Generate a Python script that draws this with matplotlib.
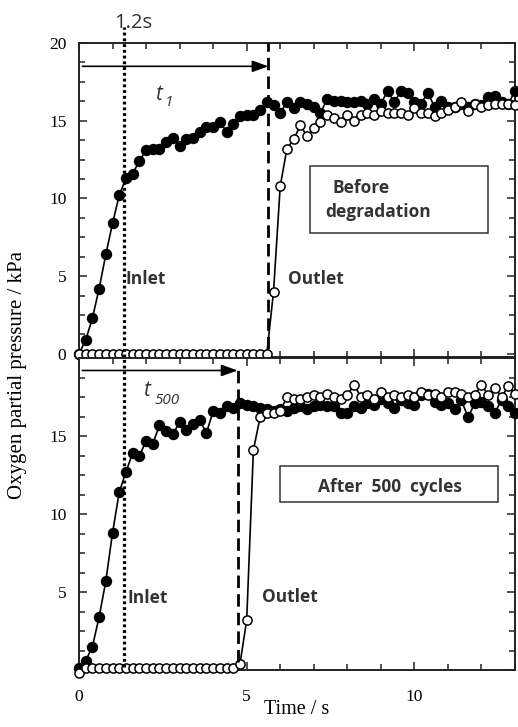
import matplotlib
matplotlib.use("Agg")
import matplotlib.pyplot as plt
from matplotlib.patches import Rectangle
from matplotlib.ticker import MultipleLocator

# sampling times (s), one point every 0.2 s
time = [0.0, 0.2, 0.4, 0.6, 0.8, 1.0, 1.2, 1.4, 1.6, 1.8,
        2.0, 2.2, 2.4, 2.6, 2.8, 3.0, 3.2, 3.4, 3.6, 3.8,
        4.0, 4.2, 4.4, 4.6, 4.8, 5.0, 5.2, 5.4, 5.6, 5.8,
        6.0, 6.2, 6.4, 6.6, 6.8, 7.0, 7.2, 7.4, 7.6, 7.8,
        8.0, 8.2, 8.4, 8.6, 8.8, 9.0, 9.2, 9.4, 9.6, 9.8,
        10.0, 10.2, 10.4, 10.6, 10.8, 11.0, 11.2, 11.4, 11.6, 11.8,
        12.0, 12.2, 12.4, 12.6, 12.8, 13.0]

# before degradation (kPa)
inlet_before = [0.0, 0.9, 2.3, 4.2, 6.4, 8.4, 10.2, 11.3, 11.6, 12.4,
                13.1, 13.2, 13.2, 13.6, 13.9, 13.4, 13.8, 13.9, 14.3, 14.6,
                14.6, 14.9, 14.3, 14.8, 15.3, 15.4, 15.4, 15.7, 16.2, 16.0,
                15.5, 16.2, 15.8, 16.2, 16.1, 15.9, 15.5, 16.4, 16.3, 16.3,
                16.2, 16.2, 16.3, 16.1, 16.4, 16.1, 16.9, 16.2, 16.9, 16.8,
                16.2, 16.1, 16.8, 15.9, 16.3, 15.9, 15.9, 16.1, 15.9, 16.1,
                16.0, 16.5, 16.6, 16.2, 16.1, 16.9]
outlet_before = [0.0, 0.0, 0.0, 0.0, 0.0, 0.0, 0.0, 0.0, 0.0, 0.0,
                 0.0, 0.0, 0.0, 0.0, 0.0, 0.0, 0.0, 0.0, 0.0, 0.0,
                 0.0, 0.0, 0.0, 0.0, 0.0, 0.0, 0.0, 0.0, 0.0, 4.0,
                 10.8, 13.2, 13.8, 14.7, 14.0, 14.5, 14.9, 15.4, 15.2, 14.9,
                 15.4, 15.0, 15.4, 15.5, 15.4, 15.6, 15.5, 15.5, 15.5, 15.4,
                 15.8, 15.5, 15.5, 15.3, 15.5, 15.7, 15.9, 16.2, 15.6, 16.1,
                 15.9, 16.0, 16.1, 16.1, 16.1, 16.0]

# after 500 cycles (kPa)
inlet_after = [0.1, 0.6, 1.5, 3.4, 5.7, 8.8, 11.4, 12.7, 13.9, 13.7,
               14.7, 14.5, 15.7, 15.3, 15.1, 15.9, 15.4, 15.8, 16.0, 15.2,
               16.6, 16.5, 16.9, 16.8, 17.1, 17.0, 16.9, 16.8, 16.7, 16.6,
               16.7, 16.6, 16.8, 16.9, 16.7, 16.9, 17.0, 16.9, 16.9, 16.5,
               16.5, 16.9, 16.8, 17.1, 17.0, 17.4, 17.1, 16.8, 17.3, 17.1,
               17.0, 17.6, 17.7, 17.2, 17.0, 17.1, 16.7, 17.3, 16.2, 17.1,
               17.2, 16.9, 16.5, 17.3, 16.9, 16.5]
outlet_after = [-0.2, 0.1, 0.1, 0.1, 0.1, 0.1, 0.1, 0.1, 0.1, 0.1,
                0.1, 0.1, 0.1, 0.1, 0.1, 0.1, 0.1, 0.1, 0.1, 0.1,
                0.1, 0.1, 0.1, 0.1, 0.4, 3.2, 14.1, 16.2, 16.5, 16.5,
                16.6, 17.5, 17.4, 17.4, 17.5, 17.6, 17.5, 17.7, 17.5, 17.4,
                17.6, 18.3, 17.5, 17.6, 17.4, 17.8, 17.5, 17.6, 17.5, 17.6,
                17.5, 17.8, 17.6, 17.7, 17.5, 17.8, 17.8, 17.7, 17.5, 17.6,
                18.3, 17.6, 18.1, 17.5, 18.2, 17.7]

t_inlet = 1.35       # dotted marker line
t_1 = 5.65           # delay before degradation
t_500 = 4.73         # delay after 500 cycles

W, H = 518, 727
fig = plt.figure(figsize=(W / 100, H / 100), dpi=100)
ax1 = fig.add_axes([79 / W, 1 - 357 / H, 436 / W, 314 / H])
ax2 = fig.add_axes([79 / W, 1 - 670 / H, 436 / W, 312 / H])

serif = 'Liberation Serif'
bold = dict(family='Open Sans', weight='bold', size=12.5, color='#333333')
ink = '#222222'


def style(ax, ylo):
    ax.set_xlim(0, 13)
    ax.set_ylim(ylo, 20)
    ax.xaxis.set_major_locator(MultipleLocator(5))
    ax.xaxis.set_minor_locator(MultipleLocator(1))
    ax.yaxis.set_major_locator(MultipleLocator(5))
    ax.yaxis.set_minor_locator(MultipleLocator(1.25))
    ax.tick_params(which='both', direction='in', top=True, right=True,
                   width=1.1, color=ink, labelsize=12.5, pad=9)
    ax.tick_params(which='major', length=6)
    ax.tick_params(which='minor', length=4.5)
    for s in ax.spines.values():
        s.set_linewidth(1.4)
        s.set_color(ink)


def series(ax, y_in, y_out):
    ax.plot(time, y_in, '-o', color='black', lw=1.2, ms=7.2, mfc='black',
            mec='black', clip_on=False, zorder=3)
    ax.plot(time, y_out, '-o', color='black', lw=1.2, ms=6.6, mfc='white',
            mec='black', mew=1.1, clip_on=False, zorder=4)


style(ax1, -0.2)
style(ax2, 0)
series(ax1, inlet_before, outlet_before)
series(ax2, inlet_after, outlet_after)

ax1.set_xticklabels([])
ax1.set_yticks([0, 5, 10, 15, 20])
ax1.set_yticklabels(['0', '5', '10', '15', '20'], family=serif)
ax2.set_yticks([0, 5, 10, 15])
ax2.set_yticklabels(['', '5', '10', '15'], family=serif)
ax2.set_xticks([0, 5, 10])
ax2.set_xticklabels(['0', '5', '10'], family=serif)
ax2.tick_params(axis='x', pad=14)

# vertical marker lines
ax1.plot([t_inlet, t_inlet], [-0.2, 21.0], color='black', lw=2.3,
         ls=(0, (0.9, 0.9)), clip_on=False, zorder=5)
ax2.plot([t_inlet, t_inlet], [0.2, 20], color='black', lw=2.3,
         ls=(0, (0.9, 0.9)), zorder=5)
ax1.plot([t_1, t_1], [0.3, 20], color='black', lw=2, ls=(0, (4.5, 2.2)),
         zorder=5)
ax2.plot([t_500, t_500], [0.5, 19.3], color='black', lw=2, ls=(0, (4.5, 2.2)),
         zorder=5)

# delay arrows
arrow = dict(arrowstyle='-|>,head_length=0.7,head_width=0.25', color='black',
             lw=1.2, shrinkA=0, shrinkB=0, mutation_scale=14)
ax1.annotate('', xy=(t_1, 18.5), xytext=(0.1, 18.5), arrowprops=arrow)
ax2.annotate('', xy=(t_500, 19.2), xytext=(0.1, 19.2), arrowprops=arrow)

ax1.text(1.62, 21.3, '1.2s', family='Open Sans', size=14.5, color='#333333',
         ha='center', va='center', clip_on=False)

# delay labels
ax1.text(2.38, 16.7, 't', family='Open Sans', style='italic', size=15,
         color='#333333', ha='center', va='center')
ax1.text(2.68, 16.2, '1', family='Open Sans', style='italic', size=11,
         color='#333333', ha='center', va='center')
ax2.text(2.0, 17.9, 't', family='Open Sans', style='italic', size=15,
         color='#333333', ha='center', va='center')
ax2.text(2.63, 17.3, '500', family='Open Sans', style='italic', size=11,
         color='#333333', ha='center', va='center')

ax1.text(1.4, 4.8, 'Inlet', ha='left', va='center', **bold)
ax1.text(6.22, 4.8, 'Outlet', ha='left', va='center', **bold)
ax2.text(1.46, 4.6, 'Inlet', ha='left', va='center', **bold)
ax2.text(5.45, 4.7, 'Outlet', ha='left', va='center', **bold)

# condition boxes
ax1.add_patch(Rectangle((6.9, 7.75), 5.3, 4.35, fill=False, lw=1.1,
                        ec='#333333', zorder=2))
ax1.text(7.56, 10.7, 'Before', ha='left', va='center', **bold)
ax1.text(7.35, 9.1, 'degradation', ha='left', va='center', **bold)
ax2.add_patch(Rectangle((5.98, 10.8), 6.52, 2.3, fill=False, lw=1.1,
                        ec='#333333', zorder=2))
ax2.text(9.26, 11.7, 'After  500  cycles', ha='center', va='center', **bold)

fig.text(18 / W, 1 - 375 / H, 'Oxygen partial pressure / kPa', family=serif,
         size=15, rotation=90, ha='center', va='center')
fig.text(297 / W, 1 - 710 / H, 'Time / s', family=serif, size=14.5,
         ha='center', va='center')

fig.savefig('out.png', dpi=100)
